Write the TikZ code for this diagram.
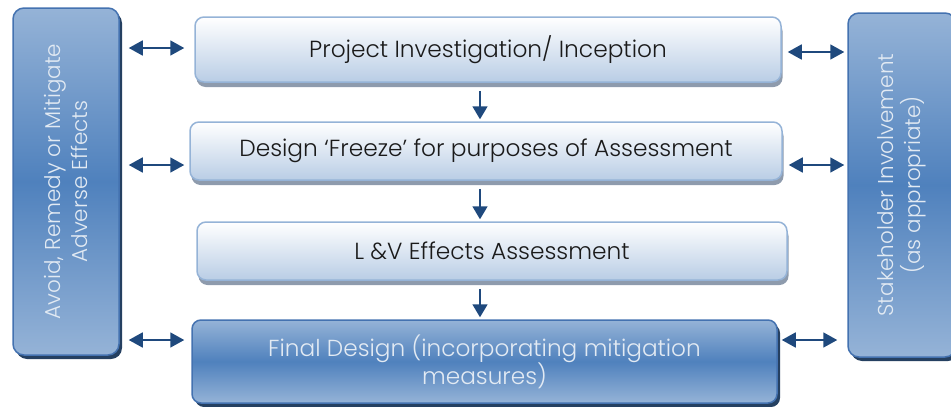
\documentclass[tikz,border=0pt]{standalone}
\usepackage{fontspec}
\setmainfont{Poppins}[UprightFont=* Light]
\usetikzlibrary{positioning, calc, arrows.meta, shadows}

\definecolor{stagebot}{HTML}{B9CDE5}
\definecolor{stageline}{HTML}{95B3D7}
\definecolor{stageshadow}{HTML}{8E9BAD}
\definecolor{stagetext}{HTML}{1A1A1A}
\definecolor{sidemid}{HTML}{4F81BD}
\definecolor{sidelight}{HTML}{95B3D7}
\definecolor{sideline}{HTML}{4472B0}
\definecolor{sideshadow}{HTML}{254061}
\definecolor{sidetext}{HTML}{E2EAF3}
\definecolor{arrowblue}{HTML}{1F497D}

\tikzset{
  stage/.style={draw=stageline, line width=1.5pt, rounded corners=9pt,
    top color=white, bottom color=stagebot, text=stagetext,
    font=\fontsize{23.3}{27}\selectfont,
    general shadow={fill=stageshadow, shadow xshift=1.5pt, shadow yshift=-5pt}},
  darkbox/.style={draw=sideline, line width=1.5pt, rounded corners=11pt,
    top color=sidelight, bottom color=sidelight, middle color=sidemid,
    text=sidetext, font=\fontsize{23.2}{28}\selectfont, align=center,
    general shadow={fill=sideshadow, shadow xshift=3pt, shadow yshift=-4pt}},
  sidelabel/.style={text=sidetext, font=\fontsize{21.5}{27}\selectfont,
    align=center, rotate=90},
  flow/.style={draw=arrowblue, line width=1.8pt,
    -{Triangle[length=13pt, width=15pt]}},
  twoway/.style={draw=arrowblue, line width=1.8pt,
    {Triangle[length=14pt, width=15pt]}-{Triangle[length=14pt, width=15pt]}}
}

\begin{document}
\begin{tikzpicture}[x=1pt, y=-1pt]
  \useasboundingbox (0,0) rectangle (951,407);

  % Side boxes
  \node[darkbox, minimum width=106pt, minimum height=347pt] (avoid) at (66,181.5) {};
  \node[sidelabel] (avoidtxt) at (avoid.center) {Avoid, Remedy or Mitigate\\Adverse Effects};
  \node[darkbox, minimum width=108pt, minimum height=344pt] (stake) at (902,185) {};
  \node[sidelabel] (staketxt) at (stake.center) {Stakeholder Involvement\\(as appropriate)};

  % Stages down the middle
  \node[stage, minimum width=586pt, minimum height=65pt] (proj) at (488,49.5) {Project Investigation/ Inception};
  \node[stage, minimum width=592pt, minimum height=58pt] (design) at (486,151) {Design `Freeze' for purposes of Assessment};
  \node[stage, minimum width=590pt, minimum height=58pt] (effects) at (492,251) {L \&V Effects Assessment};
  \node[darkbox, minimum width=585pt, minimum height=83pt, rounded corners=9pt] (final) at (484.5,361.5) {Final Design (incorporating mitigation\\measures)};

  % Flow between stages
  \draw[flow, shorten <=8pt, shorten >=2pt] (480,0 |- proj.south) -- (480,0 |- design.north);
  \draw[flow, shorten <=8pt, shorten >=2pt] (480,0 |- design.south) -- (480,0 |- effects.north);
  \draw[flow, shorten <=8pt, shorten >=2pt] (480,0 |- effects.south) -- (480,0 |- final.north);

  % Links to the side boxes
  \draw[twoway, shorten <=9pt, shorten >=10pt] (avoid.east |- 0,48) -- (proj.west |- 0,48);
  \draw[twoway, shorten <=9pt, shorten >=5pt] (avoid.east |- 0,165) -- (design.west |- 0,165);
  \draw[twoway, shorten <=9pt, shorten >=7pt] (avoid.east |- 0,340) -- (final.west |- 0,340);
  \draw[twoway, shorten <=6pt, shorten >=3pt] (proj.east |- 0,52) -- (stake.west |- 0,52);
  \draw[twoway, shorten <=6pt, shorten >=3pt] (design.east |- 0,165) -- (stake.west |- 0,165);
  \draw[twoway, shorten <=4pt, shorten >=10pt] (final.east |- 0,340) -- (stake.west |- 0,340);
\end{tikzpicture}
\end{document}
